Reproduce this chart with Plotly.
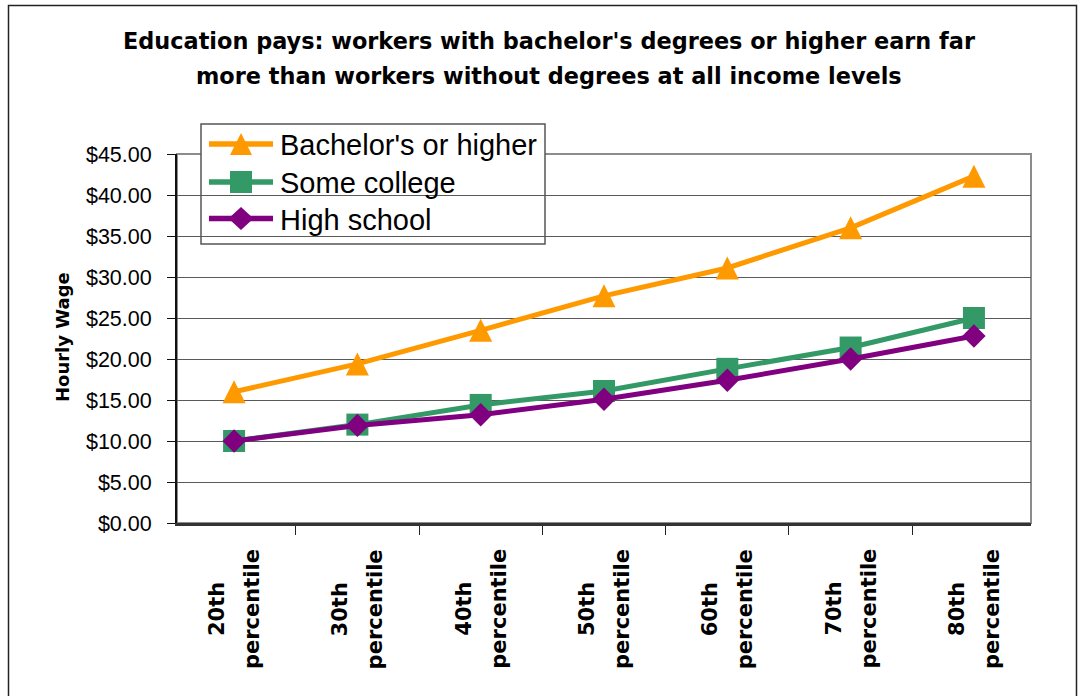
import plotly.graph_objects as go

# ---- data -------------------------------------------------------------
categories = ["20th percentile", "30th percentile", "40th percentile",
              "50th percentile", "60th percentile", "70th percentile",
              "80th percentile"]
bachelors = [16.0, 19.4, 23.5, 27.7, 31.1, 36.0, 42.3]
some_college = [10.0, 12.0, 14.4, 16.1, 18.8, 21.4, 25.0]
high_school = [10.0, 11.9, 13.2, 15.1, 17.4, 20.0, 22.8]

series_names = ["Bachelor's or higher", "Some college", "High school"]
title_lines = ["Education pays: workers with bachelor's degrees or higher earn far",
               "more than workers without degrees at all income levels"]
y_title = "Hourly Wage"

# ---- styling ----------------------------------------------------------
W, H = 1078, 696
L, R, T, B = 177, 1031, 154, 523          # plot area in page pixels
ORANGE, GREEN, PURPLE = "#FF9900", "#339966", "#800080"
SANS = "Liberation Sans, Arial, sans-serif"
BOLD = "DejaVu Sans, sans-serif"


def px2x(px):
    return (px - L) / (R - L)


def px2y(py):
    return (B - py) / (B - T)


def poly(points):
    """SVG path in paper coordinates from page-pixel vertices."""
    return "M" + " L".join("%.5f,%.5f" % (px2x(x), px2y(y)) for x, y in points) + " Z"


fig = go.Figure()

# triangle = arrow-down flipped 180 deg and pushed back by half its size,
# which leaves an isosceles triangle centred on the point
styles = [
    (bachelors, ORANGE, "arrow-down", 23, 180, 11.5),
    (some_college, GREEN, "square", 22, 0, 0),
    (high_school, PURPLE, "diamond", 18, 0, 0),
]
for name, (vals, col, sym, size, ang, stand) in zip(series_names, styles):
    fig.add_trace(go.Scatter(
        x=categories, y=vals, name=name, mode="lines+markers",
        line=dict(color=col, width=5, backoff=0),
        marker=dict(symbol=sym, size=size, color=col, angle=ang,
                    standoff=stand, line=dict(width=0)),
        cliponaxis=False, showlegend=False,
    ))

shapes = []
# outer chart frame
shapes.append(dict(type="rect", xref="paper", yref="paper",
                   x0=px2x(8.5), x1=px2x(1076.5), y0=px2y(710), y1=px2y(5.5),
                   line=dict(color="#222222", width=1.5), layer="below"))
# plot area frame (top/right in grey)
shapes.append(dict(type="rect", xref="paper", yref="paper",
                   x0=0, x1=1, y0=0, y1=1,
                   line=dict(color="#8c8c8c", width=2), layer="below"))

# legend: box, line samples and symbols
leg_rows = [144, 182, 218.5]
sx = 241
shapes.append(dict(type="rect", xref="paper", yref="paper",
                   x0=px2x(201), x1=px2x(545), y0=px2y(244), y1=px2y(124),
                   fillcolor="white", line=dict(color="#555555", width=1.5),
                   layer="between"))
for row, col in zip(leg_rows, [ORANGE, GREEN, PURPLE]):
    shapes.append(dict(type="line", xref="paper", yref="paper",
                       x0=px2x(209), x1=px2x(273), y0=px2y(row), y1=px2y(row),
                       line=dict(color=col, width=5.5), layer="between"))
r0, r1, r2 = leg_rows
symbols = [
    (poly([(sx, r0 - 11), (sx + 11, r0 + 11), (sx - 11, r0 + 11)]), ORANGE),
    (poly([(sx - 11, r1 - 11), (sx + 11, r1 - 11), (sx + 11, r1 + 11),
           (sx - 11, r1 + 11)]), GREEN),
    (poly([(sx, r2 - 11.5), (sx + 12.5, r2), (sx, r2 + 11.5),
           (sx - 12.5, r2)]), PURPLE),
]
for path, col in symbols:
    shapes.append(dict(type="path", xref="paper", yref="paper", path=path,
                       fillcolor=col, line=dict(width=0), layer="between"))

annotations = []
# title, one annotation per line
for line, mid in zip(title_lines, [41, 75.5]):
    annotations.append(dict(text="<b>%s</b>" % line, xref="paper", yref="paper",
                            x=px2x(549), y=px2y(mid), xanchor="center",
                            yanchor="middle", showarrow=False,
                            font=dict(family=BOLD, size=22.4, color="black")))
# y-axis title
annotations.append(dict(text="<b>%s</b>" % y_title, xref="paper", yref="paper",
                        x=px2x(62), y=px2y(337), xanchor="center",
                        yanchor="middle", textangle=-90, showarrow=False,
                        font=dict(family=BOLD, size=18, color="black")))
# category labels, two rotated lines per category
for cat in categories:
    first, second = cat.split(" ", 1)
    for txt, dx in [(first, -17), (second, 18)]:
        annotations.append(dict(text="<b>%s</b>" % txt, xref="x", yref="paper",
                                x=cat, y=px2y(609), xshift=dx,
                                xanchor="center", yanchor="middle",
                                textangle=-90, showarrow=False,
                                font=dict(family=BOLD, size=21, color="black")))
# legend labels
for name, row in zip(series_names, leg_rows):
    annotations.append(dict(text=name, xref="paper", yref="paper",
                            x=px2x(278), y=px2y(row + 1), xanchor="left",
                            yanchor="middle", showarrow=False,
                            font=dict(family=SANS, size=29, color="black")))

fig.update_layout(
    width=W, height=H,
    margin=dict(l=L, r=W - R, t=T, b=H - B, pad=0),
    paper_bgcolor="white", plot_bgcolor="white",
    showlegend=False,
    shapes=shapes, annotations=annotations,
    xaxis=dict(type="category", categoryorder="array", categoryarray=categories,
               showticklabels=False, ticks="outside", tickson="boundaries",
               ticklen=9, tickwidth=1.2, tickcolor="#222222",
               showline=True, linecolor="#333333", linewidth=2.5,
               showgrid=False, zeroline=False, fixedrange=True),
    yaxis=dict(range=[0, 45], dtick=5, tick0=0, tickformat="$.2f",
               tickfont=dict(family=SANS, size=21.5, color="black"),
               ticks="outside", ticklen=8, tickwidth=1.2, tickcolor="#111111",
               showline=True, linecolor="#111111", linewidth=2,
               showgrid=True, gridcolor="#5a5a5a", gridwidth=1,
               zeroline=False, ticklabelstandoff=11, fixedrange=True),
)

fig.write_html("out.html")
